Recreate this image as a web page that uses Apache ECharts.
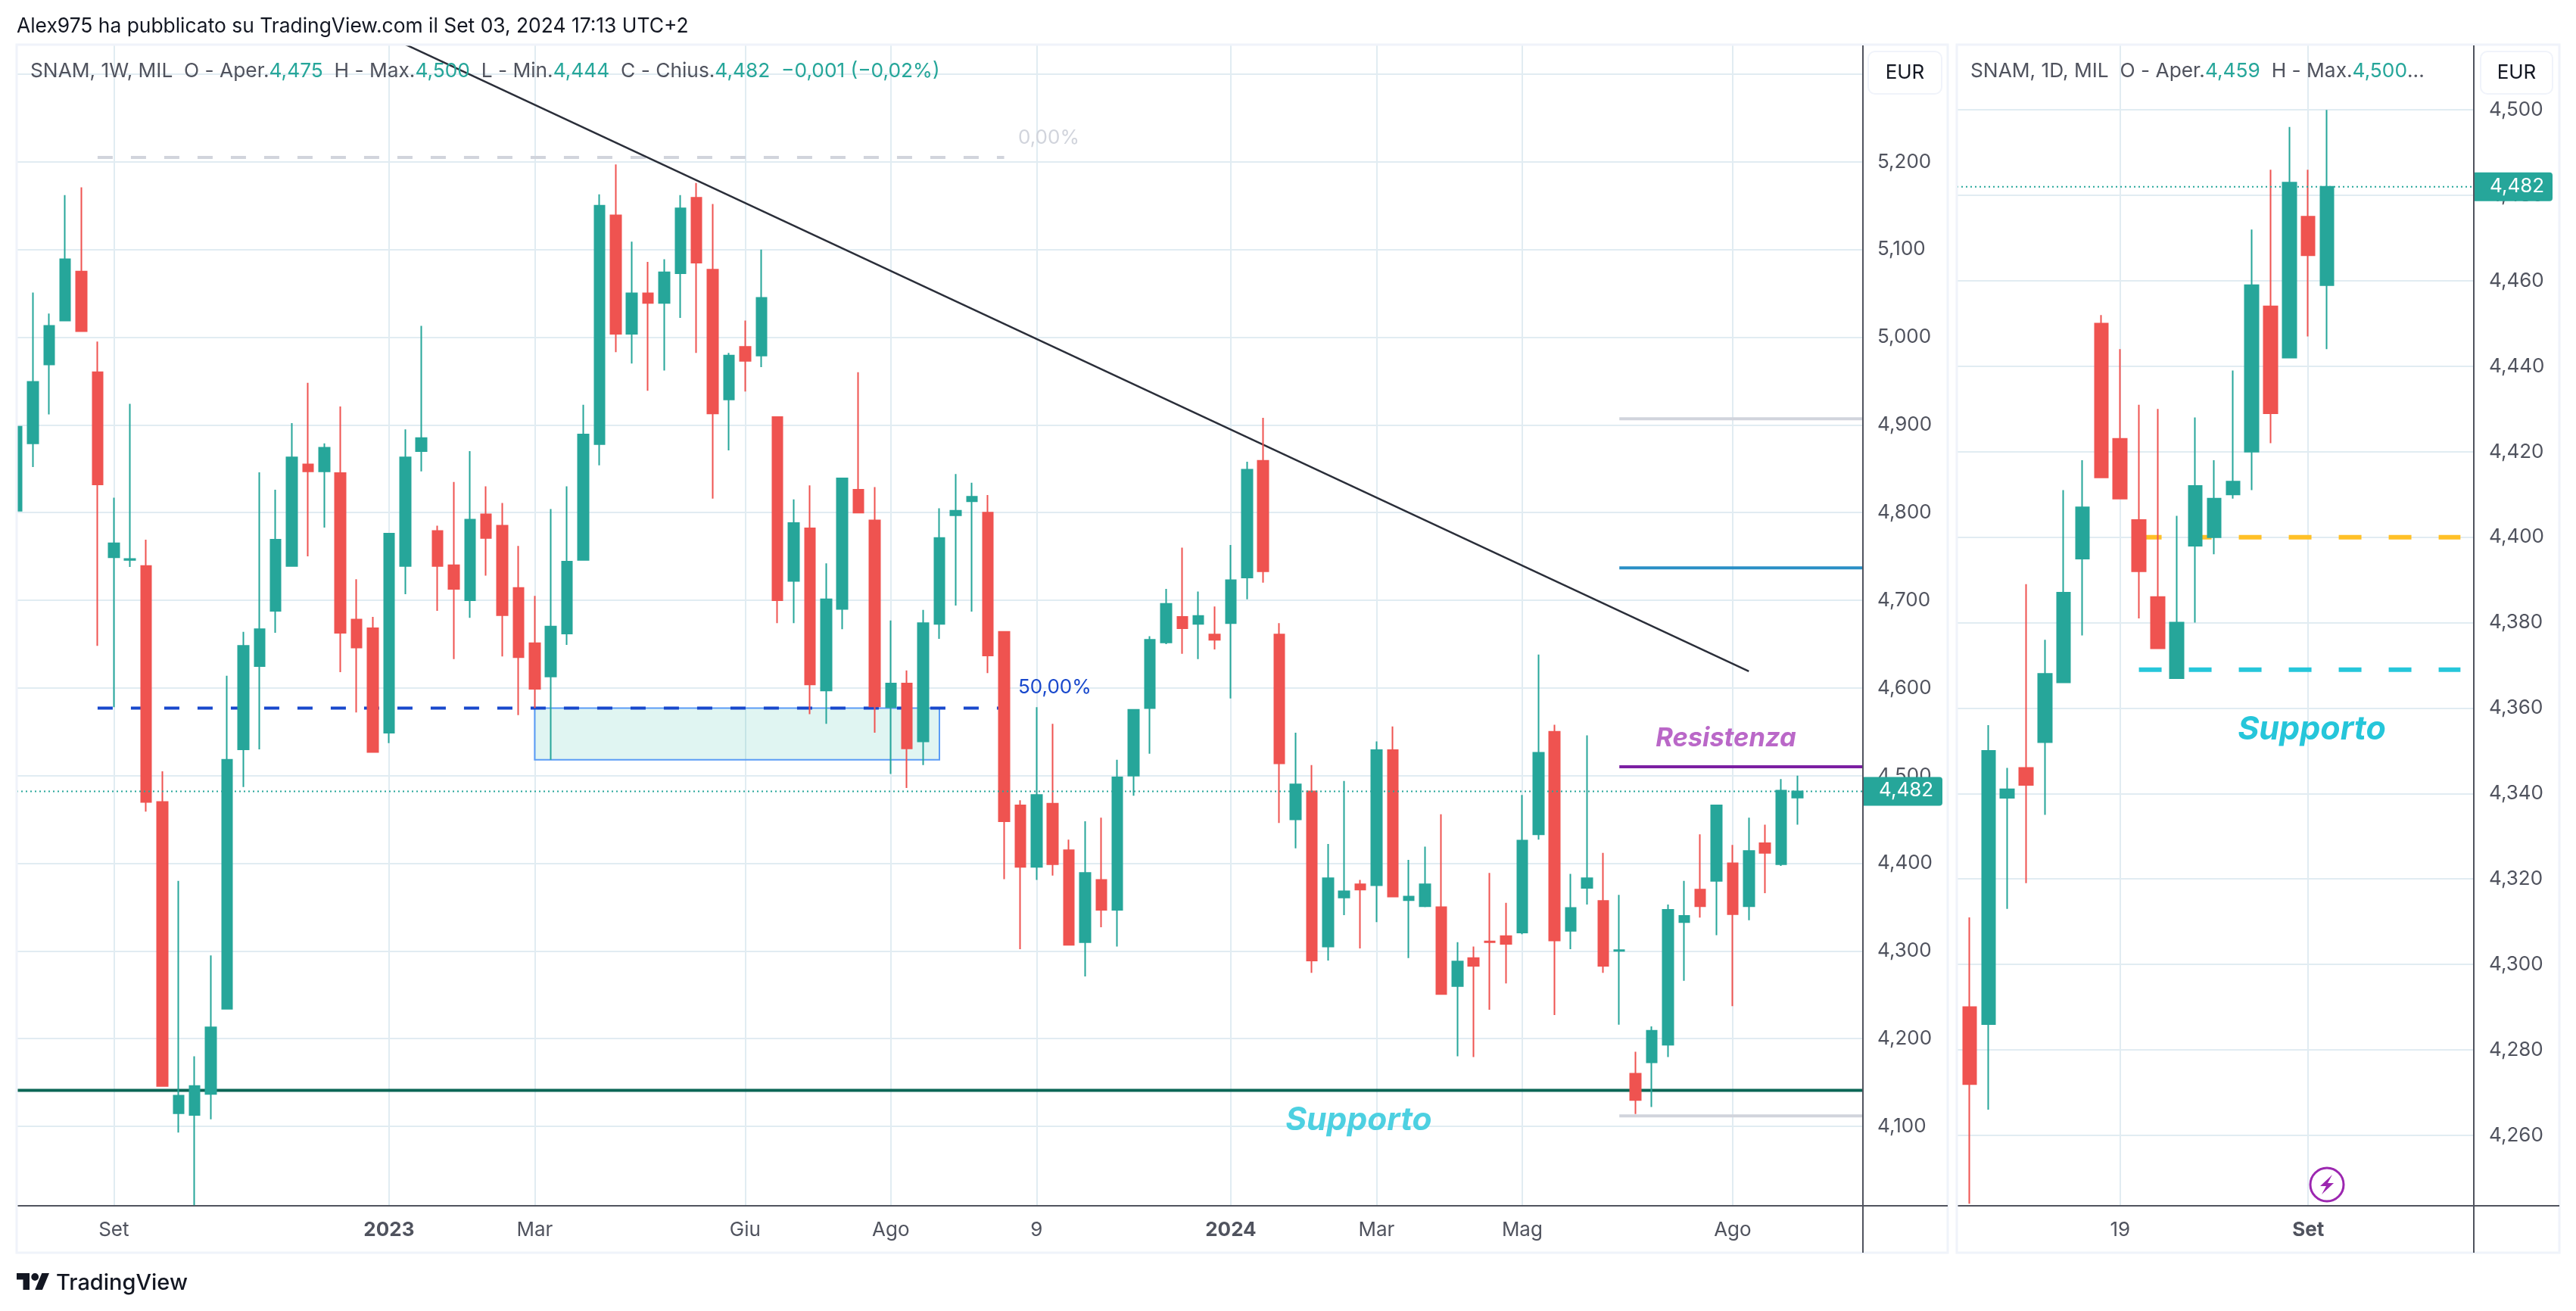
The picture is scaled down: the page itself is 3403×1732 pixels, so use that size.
<!DOCTYPE html>
<html>
<head>
<meta charset="utf-8">
<title>SNAM</title>
<script src="https://cdn.jsdelivr.net/npm/echarts@6/dist/echarts.min.js"></script>
<style>
html,body{margin:0;padding:0;background:#fff;}
#chart{width:3403px;height:1732px;}
</style>
</head>
<body>
<div id="chart"></div>
<script>
// weekly candles
const weekOpen=[4.802,4.879,4.969,5.019,5.075,4.960,4.749,4.746,4.739,4.470,4.115,4.113,4.137,4.234,4.530,4.625,4.688,4.739,4.855,4.847,4.845,4.678,4.668,4.549,4.739,4.870,4.779,4.740,4.700,4.798,4.785,4.714,4.651,4.613,4.662,4.746,4.878,5.139,5.004,5.050,5.039,5.073,5.159,5.077,4.929,4.989,4.979,4.909,4.722,4.782,4.597,4.690,4.826,4.791,4.578,4.605,4.539,4.673,4.797,4.813,4.800,4.664,4.466,4.396,4.468,4.415,4.310,4.381,4.347,4.500,4.577,4.652,4.681,4.673,4.661,4.674,4.726,4.859,4.661,4.450,4.482,4.305,4.361,4.376,4.375,4.529,4.358,4.351,4.350,4.260,4.292,4.311,4.317,4.321,4.433,4.550,4.323,4.372,4.357,4.300,4.160,4.173,4.193,4.333,4.370,4.380,4.400,4.351,4.423,4.399,4.475];
const weekHigh=[4.898,5.051,5.027,5.162,5.171,4.995,4.817,4.924,4.769,4.505,4.380,4.180,4.295,4.614,4.664,4.846,4.826,4.902,4.948,4.879,4.921,4.724,4.681,4.776,4.895,5.013,4.785,4.835,4.870,4.830,4.811,4.762,4.705,4.804,4.830,4.923,5.163,5.197,5.109,5.086,5.089,5.162,5.176,5.152,4.982,5.019,5.100,4.909,4.815,4.831,4.742,4.839,4.960,4.829,4.677,4.620,4.689,4.805,4.844,4.834,4.820,4.664,4.472,4.578,4.559,4.427,4.448,4.452,4.518,4.575,4.659,4.713,4.760,4.710,4.693,4.763,4.858,4.908,4.674,4.549,4.512,4.422,4.494,4.381,4.539,4.556,4.404,4.419,4.456,4.310,4.305,4.389,4.355,4.478,4.638,4.558,4.388,4.546,4.412,4.364,4.185,4.214,4.353,4.380,4.433,4.467,4.421,4.452,4.444,4.496,4.500];
const weekLow=[4.802,4.852,4.912,5.019,5.007,4.648,4.578,4.738,4.459,4.146,4.093,4.010,4.108,4.234,4.487,4.530,4.663,4.739,4.750,4.783,4.618,4.572,4.527,4.537,4.707,4.847,4.688,4.633,4.680,4.728,4.636,4.569,4.577,4.518,4.649,4.746,4.854,4.983,4.970,4.939,4.962,5.022,4.982,4.816,4.871,4.938,4.966,4.674,4.674,4.570,4.559,4.667,4.800,4.549,4.502,4.486,4.512,4.656,4.694,4.687,4.617,4.382,4.302,4.381,4.386,4.307,4.271,4.327,4.305,4.477,4.525,4.650,4.639,4.633,4.644,4.588,4.701,4.720,4.446,4.417,4.275,4.289,4.341,4.303,4.333,4.362,4.292,4.350,4.251,4.180,4.179,4.233,4.263,4.319,4.427,4.227,4.302,4.353,4.275,4.216,4.114,4.122,4.179,4.266,4.338,4.318,4.237,4.335,4.366,4.397,4.444];
const weekClose=[4.898,4.949,5.013,5.089,5.007,4.832,4.765,4.747,4.470,4.146,4.135,4.146,4.213,4.518,4.648,4.667,4.769,4.863,4.847,4.874,4.663,4.646,4.527,4.776,4.863,4.885,4.739,4.713,4.792,4.771,4.683,4.635,4.599,4.670,4.744,4.889,5.150,5.004,5.050,5.039,5.074,5.147,5.085,4.913,4.979,4.973,5.045,4.700,4.788,4.604,4.701,4.839,4.800,4.579,4.605,4.531,4.674,4.771,4.802,4.818,4.637,4.448,4.396,4.478,4.399,4.307,4.389,4.347,4.498,4.575,4.655,4.696,4.668,4.682,4.655,4.723,4.849,4.733,4.514,4.490,4.289,4.383,4.368,4.370,4.529,4.362,4.362,4.376,4.251,4.288,4.283,4.310,4.308,4.426,4.526,4.312,4.349,4.383,4.283,4.301,4.130,4.209,4.347,4.340,4.351,4.466,4.342,4.414,4.412,4.483,4.482];
const weekTickIndex=[6,23,32,45,54,63,75,84,93,106];
const weekTickLabels=['Set','2023','Mar','Giu','Ago','9','2024','Mar','Mag','Ago'];
const weekBoldLabels=['2023','2024'];
const weekPriceTicks=[4.1,4.2,4.3,4.4,4.5,4.6,4.7,4.8,4.9,5.0,5.1,5.2,5.3];

// daily candles, right panel
const dayOpen=[4.290,4.286,4.339,4.346,4.352,4.366,4.395,4.450,4.423,4.404,4.386,4.367,4.398,4.400,4.410,4.420,4.454,4.442,4.475,4.459];
const dayHigh=[4.311,4.356,4.346,4.389,4.376,4.411,4.418,4.452,4.444,4.431,4.430,4.405,4.428,4.418,4.439,4.472,4.486,4.496,4.486,4.500];
const dayLow=[4.244,4.266,4.313,4.319,4.335,4.366,4.377,4.414,4.409,4.381,4.374,4.367,4.380,4.396,4.409,4.411,4.422,4.442,4.447,4.444];
const dayClose=[4.272,4.350,4.341,4.342,4.368,4.387,4.407,4.414,4.409,4.392,4.374,4.380,4.412,4.409,4.413,4.459,4.429,4.483,4.466,4.482];
const dayTickIndex=[8,18];
const dayTickLabels=['19','Set'];
const dayBoldLabels=['Set'];
const dayPriceTicks=[4.26,4.28,4.30,4.32,4.34,4.36,4.38,4.40,4.42,4.44,4.46,4.48,4.50];

// drawn levels
const lastPrice=4.482;
const fibTop=5.205;
const fibMid=4.577;
const boxBottom=4.518;
const greyHigh=4.907;
const blueLevel=4.737;
const purpleLevel=4.510;
const greyLow=4.112;
const supportLevel=4.141;
const trendX=[24,107];
const trendY=[5.334,4.619];
const dayOrangeLevel=4.400;
const dayCyanLevel=4.369;

const UP='#26a69a',DOWN='#ef5350',GRID='#e1ecf2',AXIS='#50535e',FRAME='#f0f3fa',FONT='Inter';

const weekCandles=weekOpen.map((o,i)=>[i,o,weekClose[i],weekLow[i],weekHigh[i]]);
const dayCandles=dayOpen.map((o,i)=>[i,o,dayClose[i],dayLow[i],dayHigh[i]]);

const fmtPrice=v=>v.toFixed(3).replace('.',',');

function xAxisFor(idx,min,max,ticks,labels,bold){
    return {
        type:'value',gridIndex:idx,min:min,max:max,
        axisLine:{show:true,onZero:false,lineStyle:{color:AXIS,width:2}},
        axisTick:{show:false,customValues:ticks},
        splitLine:{show:true,lineStyle:{color:GRID,width:2}},
        axisLabel:{
            customValues:ticks,margin:19,color:AXIS,fontSize:26,fontFamily:FONT,
            formatter:v=>{
                const t=labels[ticks.indexOf(v)]
                return bold.includes(t)?'{b|'+t+'}':t
            },
            rich:{b:{fontWeight:'bold',fontSize:26,fontFamily:FONT,color:AXIS}}
        }
    }
}
function yAxisFor(idx,min,max,ticks){
    return {
        type:'value',gridIndex:idx,position:'right',min:min,max:max,
        axisLine:{show:false},
        axisTick:{show:false,customValues:ticks},
        splitLine:{show:true,lineStyle:{color:GRID,width:2}},
        axisLabel:{customValues:ticks,margin:20,color:AXIS,fontSize:26,fontFamily:FONT,formatter:fmtPrice}
    }
}
function candles(idx,data,width){
    return {
        type:'candlestick',xAxisIndex:idx,yAxisIndex:idx,data:data,z:3,barWidth:width,
        itemStyle:{color:UP,color0:DOWN,borderColor:UP,borderColor0:DOWN,borderColorDoji:UP,borderWidth:2}
    }
}
function level(idx,x0,x1,y0,y1,color,width,type,z){
    return {
        type:'line',xAxisIndex:idx,yAxisIndex:idx,data:[[x0,y0],[x1,y1]],
        showSymbol:false,symbol:'none',silent:true,z:z||2,
        lineStyle:{color:color,width:width,type:type||'solid',cap:'butt'}
    }
}

const midFib=level(0,5,61,fibMid,fibMid,'#1848cc',4,[20,24]);
midFib.markArea={
    silent:true,
    itemStyle:{color:'rgba(0,172,147,0.12)',borderColor:'#5b9cf6',borderWidth:2},
    data:[[{coord:[32,fibMid]},{coord:[57,boxBottom]}]]
}

const option={
    animation:false,
    backgroundColor:'#fff',
    grid:[
        {left:22,top:60,width:2438,height:1533},
        {left:2585,top:60,width:683,height:1533}
    ],
    xAxis:[
        xAxisFor(0,0,114,weekTickIndex,weekTickLabels,weekBoldLabels),
        xAxisFor(1,-0.684,26.81,dayTickIndex,dayTickLabels,dayBoldLabels)
    ],
    yAxis:[
        yAxisFor(0,4.0094,5.3328,weekPriceTicks),
        yAxisFor(1,4.2435,4.5151,dayPriceTicks)
    ],
    series:[
        level(0,5,61,fibTop,fibTop,'#d1d4dc',4,[20,24]),
        midFib,
        level(0,0,114,supportLevel,supportLevel,'#0b6656',4),
        level(0,99,114,greyHigh,greyHigh,'#d1d4dc',4),
        level(0,99,114,blueLevel,blueLevel,'#2a8fc6',4),
        level(0,99,114,purpleLevel,purpleLevel,'#7b1fa2',4),
        level(0,99,114,greyLow,greyLow,'#d1d4dc',4),
        level(0,trendX[0],trendX[1],trendY[0],trendY[1],'#2a2e39',2.5),
        candles(0,weekCandles,14),
        level(0,0,114,lastPrice,lastPrice,UP,2,[2,4],4),
        level(1,9,26.1,dayOrangeLevel,dayOrangeLevel,'#ffc027',6,[30,36]),
        level(1,9,26.1,dayCyanLevel,dayCyanLevel,'#26c6da',6,[30,36]),
        candles(1,dayCandles,18),
        level(1,-0.684,26.81,lastPrice,lastPrice,UP,2,[2,4],4)
    ]
}

const chart=echarts.init(document.getElementById('chart'))
chart.setOption(option)

function txt(x,y,text,fontSize,color,extra){
    return {
        type:'text',x:x,y:y,z:100,
        style:Object.assign({text:text,fontSize:fontSize,fontFamily:FONT,fill:color,verticalAlign:'middle',align:'left'},extra||{})
    }
}
function legendText(x,y,parts){
    const str=parts.map(p=>'{'+p[0]+'|'+p[1]+'}').join('')
    return txt(x,y,str,26.3,AXIS,{rich:{
        a:{fontSize:26.3,fontFamily:FONT,fill:AXIS,color:AXIS},
        v:{fontSize:26.3,fontFamily:FONT,fill:UP,color:UP}
    }})
}
function frame(x,w){
    return {type:'rect',z:11,shape:{x:x,y:59,width:w,height:1596},style:{fill:null,stroke:FRAME,lineWidth:3}}
}
function axisRule(x1,y1,x2,y2){
    return {type:'line',z:50,shape:{x1:x1,y1:y1,x2:x2,y2:y2},style:{stroke:AXIS,lineWidth:2}}
}
function eurBox(x,w){
    return [
        {type:'rect',z:90,shape:{x:x,y:68,width:w,height:56,r:9},style:{fill:'#fff',stroke:FRAME,lineWidth:2}},
        txt(x+w/2,96,'EUR',26,'#131722',{align:'center'})
    ]
}
function priceTag(axisIdx,x,w){
    // the tag follows the price through the axis scale
    const y=chart.convertToPixel({yAxisIndex:axisIdx},lastPrice)
    return [
        {type:'rect',z:95,shape:{x:x,y:y-19,width:w,height:38,r:[0,4,4,0]},style:{fill:UP}},
        txt(x+20,y-1,fmtPrice(lastPrice),26,'#fff')
    ]
}

const graphics=[
    // the first weekly candle is cut by the panel edge
    {type:'rect',z:10,shape:{x:0,y:60,width:21,height:1533},style:{fill:'#fff'}},
    frame(22,2551),
    frame(2585,796),
    axisRule(2461,60,2461,1655),
    axisRule(3268,60,3268,1655),
    axisRule(2461,1593,2573,1593),
    axisRule(3268,1593,3381,1593),
    txt(22,35,'Alex975 ha pubblicato su TradingView.com il Set 03, 2024 17:13 UTC+2',26.4,'#131722'),
    legendText(40,94,[['a','SNAM, 1W, MIL  O - Aper.'],['v','4,475'],['a','  H - Max.'],['v','4,500'],['a','  L - Min.'],['v','4,444'],['a','  C - Chius.'],['v','4,482  \u22120,001 (\u22120,02%)']]),
    legendText(2603,94,[['a','SNAM, 1D, MIL  O - Aper.'],['v','4,459'],['a','  H - Max.'],['v','4,500'],['a','...']]),
    ...eurBox(2468,97),
    ...eurBox(3277,95),
    ...priceTag(0,2462,104),
    ...priceTag(1,3269,103),
    txt(1345,182,'0,00%',26,'#d1d4dc'),
    txt(1345,908,'50,00%',26,'#1848cc'),
    txt(1795,1480,'Supporto',42.5,'#4dd0e1',{align:'center',fontWeight:'bold',fontStyle:'italic'}),
    txt(2280,976,'Resistenza',34.5,'#ba68c8',{align:'center',fontWeight:'bold',fontStyle:'italic'}),
    txt(3054,964,'Supporto',43,'#26c6da',{align:'center',fontWeight:'bold',fontStyle:'italic'}),
    // alert marker on the daily panel
    {type:'circle',z:60,shape:{cx:3074,cy:1565,r:22},style:{fill:'#fff',stroke:'#9c27b0',lineWidth:3}},
    {type:'polygon',z:61,shape:{points:[[3081,1552],[3065,1567],[3073,1567],[3067,1578],[3083,1563],[3075,1563]]},style:{fill:'#9c27b0'}},
    // TradingView logo
    {type:'polygon',z:60,shape:{points:[[22,1682],[39,1682],[39,1704],[30.5,1704],[30.5,1690.6],[22,1690.6]]},style:{fill:'#131722'}},
    {type:'polygon',z:60,shape:{points:[[46.2,1704],[55.3,1682],[65,1682],[55.9,1704]]},style:{fill:'#131722'}},
    {type:'circle',z:60,shape:{cx:46.2,cy:1687,r:4.9},style:{fill:'#131722'}},
    txt(74,1695,'TradingView',29,'#131722',{fontWeight:500})
]
chart.setOption({graphic:graphics})
</script>
</body>
</html>
